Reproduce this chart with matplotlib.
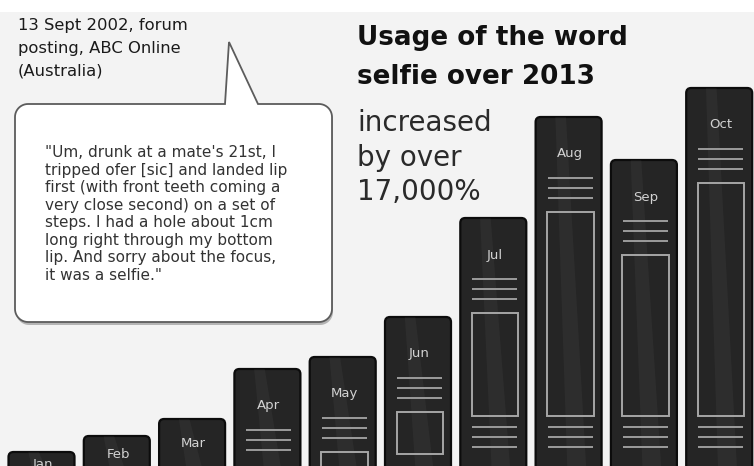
import numpy as np
import matplotlib
matplotlib.use("Agg")
import matplotlib.pyplot as plt
from matplotlib.patches import FancyBboxPatch, Rectangle, Polygon

# Data (visible height of each "book" above the bottom edge, px-scaled index)
months = ["Jan", "Feb", "Mar", "Apr", "May", "Jun", "Jul", "Aug", "Sep", "Oct"]
usage = [14, 30, 47, 97, 109, 149, 248, 349, 306, 378]

title = "Usage of the word\nselfie over 2013"
subtitle = "increased\nby over\n17,000%"
source = "13 Sept 2002, forum\nposting, ABC Online\n(Australia)"
quote = ("\"Um, drunk at a mate's 21st, I\n"
         "tripped ofer [sic] and landed lip\n"
         "first (with front teeth coming a\n"
         "very close second) on a set of\n"
         "steps. I had a hole about 1cm\n"
         "long right through my bottom\n"
         "lip. And sorry about the focus,\n"
         "it was a selfie.\"")

W, H = 754, 466
fig = plt.figure(figsize=(W / 100, H / 100), dpi=100, facecolor="#f3f3f3")

# overlay in pixel coords for the text and the speech bubble
ov = fig.add_axes([0, 0, 1, 1])
ov.set_xlim(0, W)
ov.set_ylim(H, 0)
ov.axis("off")
ov.axhspan(0, 12, color="white", lw=0)


def bubble(x0, y0, x1, y1, r, bx0, bx1, tipx, tipy):
    pts = [(x0 + r, y0), (bx0, y0), (tipx, tipy), (bx1, y0)]
    corners = [(x1 - r, y0 + r, -90), (x1 - r, y1 - r, 0),
               (x0 + r, y1 - r, 90), (x0 + r, y0 + r, 180)]
    for cx, cy, a in corners:
        t = np.radians(np.linspace(a, a + 90, 12))
        pts += list(zip(cx + r * np.cos(t), cy + r * np.sin(t)))
    return np.array(pts)


pts = bubble(15, 104, 332, 322, 13, 225, 258, 229, 42)
ov.add_patch(Polygon(pts + [1.0, 3.0], closed=True, fc="#8a8a8a", ec="none", alpha=0.6))
ov.add_patch(Polygon(pts, closed=True, fc="white", ec="#5c5c5c", lw=1.3))

# anchored on the baseline of the last line
ov.text(18, 75, source, fontsize=11.8, color="#1a1a1a", va="baseline",
        linespacing=1.62)
ov.text(45, 280, quote, fontsize=11, color="#333333", va="baseline",
        linespacing=1.21)
ov.text(357, 84, title, fontsize=18.9, fontweight="bold", color="#111111",
        va="baseline", linespacing=1.63)
ov.text(357, 200, subtitle, fontsize=20, color="#2a2a2a", va="baseline",
        linespacing=1.29)

# bars
pitch = 75.3
left_px = 41.5 - 0.5 * pitch
ax = fig.add_axes([left_px / W, 0, 10 * pitch / W, 1])
ax.set_xlim(-0.5, 9.5)
ax.set_ylim(0, H)
ax.axis("off")
ax.patch.set_alpha(0)

px = 1 / pitch  # one pixel in x units
x = np.arange(len(months))
depth = 40
bars = ax.bar(x, np.array(usage) + depth, bottom=-depth, width=66 * px)

for i, (b, h) in enumerate(zip(bars, usage)):
    b.set_visible(False)
    bx, by, bw, bh = b.get_x(), b.get_y(), b.get_width(), b.get_height()
    book = FancyBboxPatch((bx, by), bw, bh,
                          boxstyle=f"round,pad=0,rounding_size={5 * px}",
                          mutation_aspect=pitch, fc="#252525", ec="#0c0c0c",
                          lw=1.6, zorder=2)
    ax.add_patch(book)
    sheen = Polygon([(bx + 0.30 * bw, h), (bx + 0.46 * bw, h),
                     (bx + 0.80 * bw, by), (bx + 0.50 * bw, by)],
                    closed=True, fc="white", ec="none", alpha=0.04, zorder=3)
    sheen.set_clip_path(book)
    ax.add_patch(sheen)

    off = min(37, 8 + 0.35 * h)
    ax.text(i + 1.5 * px, h - off, months[i], ha="center", va="center",
            fontsize=9.5, color="#d2d2d2", zorder=4)
    lx0, lx1 = bx + 12 * px, bx + bw - 9 * px
    ax.hlines([h - off - 24, h - off - 34, h - off - 44], lx0, lx1,
              color="#9c9c9c", lw=1.4, zorder=4)
    rtop = h - off - 58
    if rtop > 10:
        if rtop - 50 > 40:
            rbot = 50
            ax.hlines([39, 29, 19], lx0, lx1, color="#9c9c9c", lw=1.4, zorder=4)
        else:
            rbot = rtop - 42
        ax.add_patch(Rectangle((bx + 11.5 * px, rbot), bw - 19.5 * px, rtop - rbot,
                               fill=False, ec="#a6a6a6", lw=1.4, zorder=4))

fig.savefig("out.png", dpi=100, facecolor=fig.get_facecolor())
